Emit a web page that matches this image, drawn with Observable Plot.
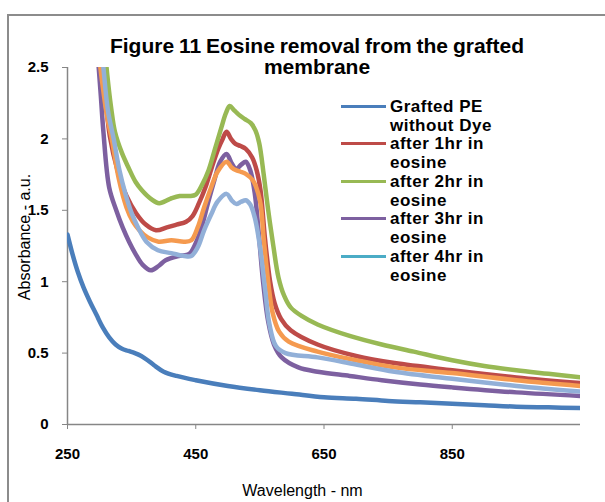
<!DOCTYPE html>
<html><head><meta charset="utf-8">
<script src="https://cdn.jsdelivr.net/npm/d3@7"></script>
<script src="https://cdn.jsdelivr.net/npm/@observablehq/plot@0.6"></script>
<style>
body{margin:0;background:#fff;font-family:"Liberation Sans",Arial,sans-serif;}
#wrap{position:relative;width:605px;height:502px;overflow:hidden;background:#fff;}
#frame{position:absolute;left:7px;top:14px;width:700px;height:600px;border-top:2px solid #8c8c8c;border-left:2px solid #8c8c8c;}
#chart{position:absolute;left:0;top:0;}
.title{position:absolute;left:0;width:634px;text-align:center;font-weight:bold;font-size:21px;line-height:21px;top:35px;color:#000;word-spacing:-1px;}
.ytitle{position:absolute;left:25px;top:237px;transform:translate(-50%,-50%) rotate(-90deg);font-size:16px;white-space:nowrap;color:#000;}
.xtitle{position:absolute;left:0;width:605px;text-align:center;top:482px;font-size:16px;color:#000;}
.leg{position:absolute;left:341px;}
.leg .sw{position:absolute;left:0;width:45px;height:3px;}
.leg .tx{position:absolute;left:49px;font-weight:bold;font-size:17px;line-height:19px;white-space:nowrap;letter-spacing:0.5px;color:#000;}
</style></head>
<body>
<div id="wrap">
  <div id="frame"></div>
  <div id="chart"></div>
  <div class="title" id="title"></div>
  <div class="ytitle" id="ytitle"></div>
  <div class="xtitle" id="xtitle"></div>
  <div id="legend"></div>
</div>
<script>
const titleLines = ["Figure 11 Eosine removal from the grafted", "membrane"];
const xTitle = "Wavelength - nm";
const yTitle = "Absorbance - a.u.";
const xTicks = [250, 450, 650, 850];
const yTicks = [0, 0.5, 1, 1.5, 2, 2.5];
const yTickLabels = ["0", "0.5", "1", "1.5", "2", "2.5"];

const legendNames = ["Grafted PE\nwithout Dye", "after 1hr in\neosine", "after 2hr in\neosine", "after 3hr in\neosine", "after 4hr in\neosine"];
const legendColors = ["#4a7ebb", "#be4b48", "#98b954", "#7d60a0", "#4bacc6"];

// [wavelength nm, absorbance]
const graftedPE = [[250,1.33],[258,1.19],[266,1.07],[275,0.96],[285,0.86],[295,0.77],[305,0.68],[315,0.61],[325,0.56],[335,0.53],[345,0.515],[355,0.50],[365,0.48],[375,0.45],[385,0.415],[400,0.37],[420,0.34],[450,0.31],[500,0.27],[550,0.24],[600,0.215],[650,0.19],[700,0.18],[750,0.165],[800,0.155],[850,0.145],[900,0.135],[950,0.125],[1000,0.12],[1050,0.115]];
const after1hr = [[293,3.2],[300,2.75],[308,2.35],[316,2.02],[328,1.78],[342,1.60],[357,1.48],[372,1.40],[388,1.36],[405,1.38],[420,1.40],[435,1.42],[445,1.46],[455,1.55],[465,1.66],[475,1.80],[485,1.93],[492,2.0],[498,2.05],[505,2.0],[512,1.965],[520,1.95],[528,1.93],[538,1.87],[545,1.78],[551,1.64],[558,1.30],[566,1.0],[573,0.85],[583,0.74],[598,0.66],[640,0.56],[700,0.48],[760,0.43],[850,0.38],[950,0.33],[1050,0.29]];
const after2hr = [[298,3.2],[305,2.8],[312,2.45],[318,2.22],[324,2.05],[335,1.9],[345,1.80],[356,1.70],[366,1.64],[380,1.58],[393,1.55],[410,1.58],[425,1.60],[440,1.60],[450,1.61],[460,1.68],[470,1.78],[480,1.93],[490,2.08],[497,2.18],[503,2.23],[510,2.20],[517,2.17],[526,2.14],[536,2.11],[543,2.06],[549,1.97],[556,1.75],[563,1.50],[571,1.25],[579,1.03],[588,0.90],[598,0.82],[615,0.76],[640,0.70],[690,0.62],[740,0.56],[790,0.51],[850,0.45],[900,0.41],[950,0.38],[1000,0.355],[1050,0.33]];
const after3hr = [[290,3.1],[297,2.6],[302,2.3],[306,2.05],[315,1.66],[326,1.50],[336,1.38],[346,1.28],[356,1.195],[367,1.12],[380,1.08],[392,1.11],[403,1.15],[423,1.18],[440,1.195],[450,1.27],[459,1.38],[469,1.55],[479,1.71],[488,1.84],[498,1.895],[506,1.83],[513,1.79],[521,1.82],[528,1.84],[535,1.78],[542,1.62],[548,1.35],[555,1.0],[563,0.72],[572,0.56],[584,0.47],[610,0.40],[640,0.37],[690,0.34],[740,0.31],[800,0.28],[850,0.26],[950,0.225],[1050,0.20]];
const orangeSeries = [[292,3.1],[299,2.6],[304,2.4],[312,2.15],[319,2.0],[330,1.72],[342,1.52],[352,1.42],[362,1.36],[375,1.31],[392,1.28],[412,1.29],[432,1.28],[443,1.29],[453,1.38],[463,1.52],[474,1.66],[484,1.77],[498,1.84],[506,1.80],[513,1.78],[520,1.77],[528,1.755],[539,1.71],[550,1.57],[556,1.30],[563,1.0],[570,0.78],[580,0.65],[595,0.58],[640,0.51],[700,0.45],[760,0.40],[850,0.36],[950,0.31],[1050,0.27]];
const lightBlueSeries = [[293,3.2],[300,2.8],[306,2.5],[313,2.2],[322,2.0],[331,1.78],[340,1.62],[350,1.48],[360,1.38],[373,1.28],[391,1.22],[412,1.20],[432,1.18],[443,1.18],[453,1.24],[463,1.36],[474,1.47],[484,1.56],[498,1.615],[506,1.57],[513,1.545],[521,1.56],[528,1.57],[535,1.54],[542,1.45],[550,1.25],[558,0.95],[565,0.70],[575,0.55],[590,0.50],[640,0.47],[700,0.42],[760,0.37],[850,0.32],[950,0.27],[1050,0.23]];

const seriesList = [
  {name: "Grafted PE without Dye", color: "#4a7ebb", data: graftedPE},
  {name: "after 1hr in eosine", color: "#be4b48", data: after1hr},
  {name: "after 2hr in eosine", color: "#98b954", data: after2hr},
  {name: "after 3hr in eosine", color: "#7d60a0", data: after3hr},
  {name: "orange", color: "#f59a4f", data: orangeSeries},
  {name: "light blue", color: "#92b0d8", data: lightBlueSeries}
];

const plot = Plot.plot({
  width: 605, height: 502,
  marginLeft: 67, marginRight: 25, marginTop: 67, marginBottom: 78,
  x: {domain: [250, 1050], ticks: xTicks, tickFormat: d => String(d)},
  y: {domain: [0, 2.5], ticks: yTicks, tickFormat: (d, i) => yTickLabels[i]},
  style: {fontFamily: "'Liberation Sans', Arial, sans-serif", fontSize: "15px", fontWeight: "bold", color: "#000", background: "transparent"},
  marks: [
    Plot.axisX({ticks: xTicks, tickSize: 5, tickPadding: 19, label: null, stroke: "#868686", fill: "#000", tickFormat: d => String(d)}),
    Plot.axisY({ticks: yTicks, tickSize: 5, tickPadding: 14, label: null, stroke: "#868686", fill: "#000", tickFormat: (d, i) => yTickLabels[i]}),
    Plot.ruleX([250], {stroke: "#868686", strokeWidth: 1.5}),
    Plot.ruleY([0], {stroke: "#868686", strokeWidth: 1.5}),
    ...seriesList.map(s => Plot.line(s.data, {x: d => d[0], y: d => d[1], stroke: s.color, strokeWidth: 4.5, curve: "catmull-rom", clip: true}))
  ]
});
document.getElementById("chart").appendChild(plot);

document.getElementById("title").innerHTML = titleLines.join("<br>");
document.getElementById("xtitle").textContent = xTitle;
document.getElementById("ytitle").textContent = yTitle;

const leg = document.getElementById("legend");
legendNames.forEach((name, i) => {
  const item = document.createElement("div");
  item.className = "leg";
  item.style.top = (97 + i * 37.4) + "px";
  const sw = document.createElement("div");
  sw.className = "sw";
  sw.style.top = "8px";
  sw.style.background = legendColors[i];
  const tx = document.createElement("div");
  tx.className = "tx";
  tx.style.top = "0px";
  tx.innerHTML = name.split("\n").join("<br>");
  item.appendChild(sw); item.appendChild(tx);
  leg.appendChild(item);
});
</script>
</body></html>
